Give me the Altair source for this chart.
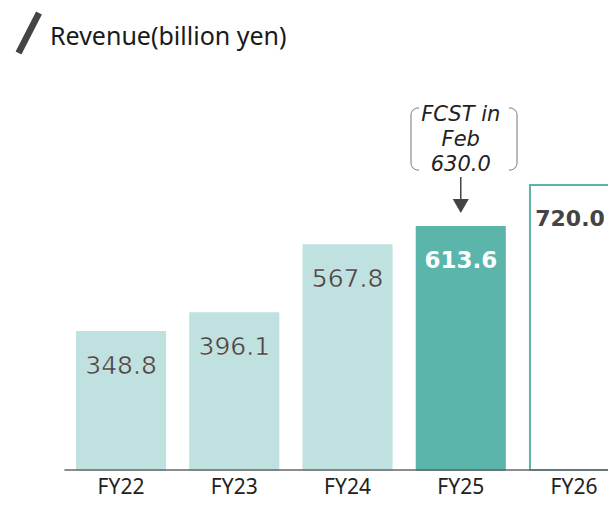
import altair as alt
import pandas as pd

categories = ["FY22", "FY23", "FY24", "FY25", "FY26"]
revenue = [348.8, 396.1, 567.8, 613.6, 720.0]
kinds = ["past", "past", "past", "current", "plan"]
value_labels = ["348.8", "396.1", "567.8", "613.6", "720.0"]
title_text = "Revenue(billion yen)"
fcst_text = "FCST in\nFeb\n630.0"

W, H = 600, 495
HALF = 0.389
XD = [-0.998, -0.998 + W / 113.25]
YD = [-(H - 462) / 0.396, 462 / 0.396]

df = pd.DataFrame({
    "cat": categories,
    "idx": list(range(len(categories))),
    "value": revenue,
    "kind": kinds,
    "label": value_labels,
})
df["x0"] = df["idx"] - HALF
df["x1"] = df["idx"] + HALF

xs = alt.Scale(domain=XD, nice=False, zero=False)
ys = alt.Scale(domain=YD, nice=False, zero=False)
X = lambda f: alt.X(f, type="quantitative", scale=xs, axis=None)
Y = lambda f: alt.Y(f, type="quantitative", scale=ys, axis=None)

base = alt.Chart(df)

bars = base.mark_bar(clip=True, strokeWidth=2).encode(
    x=X("x0"), x2="x1", y=Y("value"), y2=alt.datum(0),
    fill=alt.Fill("kind:N", scale=alt.Scale(domain=["past", "current", "plan"],
                                            range=["#bfe1df", "#5cb5aa", "#ffffff"]), legend=None),
    stroke=alt.Stroke("kind:N", scale=alt.Scale(domain=["past", "current", "plan"],
                                                range=["#bfe1df", "#5cb5aa", "#5cb5aa"]), legend=None),
)

baseline = alt.Chart(pd.DataFrame({"a": [-0.5], "b": [XD[1]], "y": [0]})).mark_rule(
    color="#666666", strokeWidth=1.5, clip=True).encode(x=X("a"), x2="b", y=Y("y"))

lab_past = base.transform_filter(alt.datum.kind == "past").mark_text(
    font="DejaVu Sans", fontSize=25, color="#444444", baseline="middle", dy=34,
    stroke="#ffffff", strokeWidth=0.6, strokeOpacity=0.6).encode(
    x=X("idx"), y=Y("value"), text="label:N")
lab_cur = base.transform_filter(alt.datum.kind == "current").mark_text(
    font="DejaVu Sans", fontSize=23, fontWeight="bold", color="#ffffff", baseline="middle", dy=34).encode(
    x=X("idx"), y=Y("value"), text="label:N")
lab_plan = base.transform_filter(alt.datum.kind == "plan").mark_text(
    font="DejaVu Sans", fontSize=22, fontWeight="bold", color="#444444", baseline="middle",
    dy=34, dx=-4).encode(
    x=X("idx"), y=Y("value"), text="label:N")

xlabels = base.mark_text(font="Noto Sans", fontSize=21, color="#222222", baseline="middle").encode(
    x=X("idx"), y=alt.value(480), text="cat:N")

title = alt.Chart(pd.DataFrame({"t": [title_text]})).mark_text(
    font="Noto Sans", fontSize=25, color="#1a1a1a", align="left", baseline="middle").encode(
    x=alt.value(42), y=alt.value(29), text="t:N")
slash = alt.Chart(pd.DataFrame({"a": [0]})).mark_rule(color="#444444", strokeWidth=6.5).encode(
    x=alt.value(31), y=alt.value(5), x2=alt.value(10.5), y2=alt.value(45))

one = pd.DataFrame({"a": [0]})
box = alt.Chart(one).mark_rect(
    fill="#ffffff", stroke="#777777", strokeWidth=1, cornerRadius=7).encode(
    x=alt.value(403), x2=alt.value(509), y=alt.value(100), y2=alt.value(162))
cover_top = alt.Chart(one).mark_rect(fill="#ffffff").encode(
    x=alt.value(411), x2=alt.value(501), y=alt.value(97), y2=alt.value(103))
cover_bot = alt.Chart(one).mark_rect(fill="#ffffff").encode(
    x=alt.value(411), x2=alt.value(501), y=alt.value(159), y2=alt.value(165))
fcst = alt.Chart(pd.DataFrame({"t": [fcst_text], "idx": [3]})).mark_text(
    font="DejaVu Sans", fontStyle="italic", fontSize=21, color="#222222",
    baseline="middle", lineBreak="\n", lineHeight=25).encode(
    x=X("idx"), y=alt.value(107), text="t:N")
arrow_line = alt.Chart(pd.DataFrame({"idx": [3]})).mark_rule(color="#444444", strokeWidth=1.5).encode(
    x=X("idx"), y=alt.value(169), y2=alt.value(192))
arrow_head = alt.Chart(pd.DataFrame({"idx": [3]})).mark_point(
    shape="triangle-down", filled=True, color="#444444", size=260, opacity=1).encode(
    x=X("idx"), y=alt.value(198))

chart = alt.layer(
    bars, baseline, lab_past, lab_cur, lab_plan, xlabels, title, slash,
    box, cover_top, cover_bot, fcst, arrow_line, arrow_head
).properties(
    width=W, height=H, autosize=alt.AutoSizeParams(type="none"), padding=0
).configure_view(stroke=None)

chart.save("out.html", embed_options={"renderer": "svg", "actions": False})
